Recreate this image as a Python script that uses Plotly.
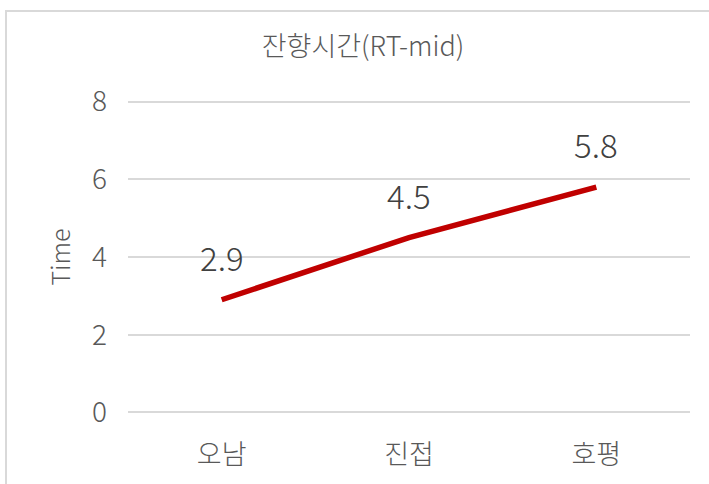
import plotly.graph_objects as go

categories = ["오남", "진접", "호평"]
values = [2.9, 4.5, 5.8]
y_ticks = [0, 2, 4, 6, 8]

FONT = "Noto Sans CJK KR"
W, H = 709, 484
ML, MR, MT, MB = 128, 19, 100, 70
PW, PH = W - ML - MR, H - MT - MB

def px_x(px):
    return (px - ML) / PW

def px_y(py):
    return (H - MB - py) / PH

fig = go.Figure()
fig.add_trace(go.Scatter(
    x=categories, y=values, mode="lines",
    line=dict(color="#C00000", width=5.5),
    showlegend=False, hoverinfo="skip",
))

for c, v in zip(categories, values):
    fig.add_annotation(x=c, y=v, text=f"{v:.1f}", showarrow=False,
                       yshift=43, font=dict(family=FONT, size=33, color="#404040", weight=300))

fig.add_shape(type="rect", xref="paper", yref="paper",
              x0=px_x(6), x1=px_x(760), y0=px_y(540), y1=px_y(11),
              line=dict(color="#D9D9D9", width=2), fillcolor="rgba(0,0,0,0)", layer="below")

fig.update_layout(
    width=W, height=H,
    margin=dict(l=ML, r=MR, t=MT, b=MB),
    paper_bgcolor="white", plot_bgcolor="white",
    font=dict(family=FONT, color="#595959"),
    title=dict(text="잔향시간(RT-mid)", x=px_x(363), xref="paper", xanchor="center",
               y=1 - 47 / H, yref="container", yanchor="middle",
               font=dict(family=FONT, size=27, color="#595959", weight=300)),
    xaxis=dict(showgrid=False, zeroline=False, showline=False, ticks="",
               tickfont=dict(family=FONT, size=27, color="#595959", weight=300),
               ticklabelstandoff=22, range=[-0.5, 2.5]),
    yaxis=dict(range=[-0.04, 8.04], tickvals=y_ticks, showgrid=True, gridcolor="#D9D9D9",
               gridwidth=1.5, zeroline=False, showline=False, ticks="",
               tickfont=dict(family=FONT, size=28, color="#595959", weight=300),
               ticklabelstandoff=20,
               title=dict(text="Time", standoff=14,
                          font=dict(family=FONT, size=25, color="#595959", weight=300))),
)

fig.write_html("out.html", config={"displayModeBar": False},
               post_script="document.body.style.margin='0';")
